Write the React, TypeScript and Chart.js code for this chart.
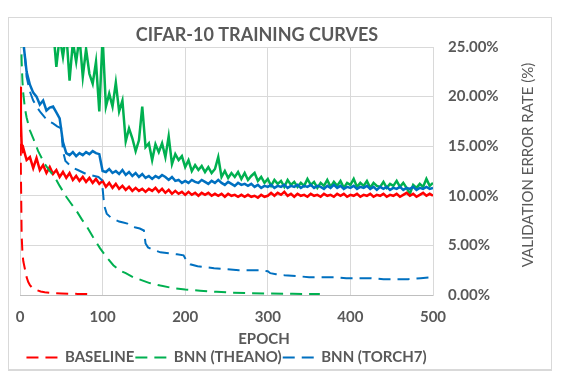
import React, { useEffect, useRef } from 'react';
import { Chart, registerables } from 'chart.js';

Chart.register(...registerables);

const TITLE = 'CIFAR-10 TRAINING CURVES';
const X_TITLE = 'EPOCH';
const Y_TITLE = 'VALIDATION ERROR RATE (%)';
const SERIES_NAMES = ['BASELINE', 'BNN (THEANO)', 'BNN (TORCH7)'];
const X_MIN = 0;
const X_MAX = 500;
const X_STEP = 100;
const Y_MIN = 0;
const Y_MAX = 25;
const Y_STEP = 5;

// epochs at which the validation curves were read
const VAL_EPOCHS = [0, 1, 2, 3, ...Array.from({ length: 125 }, (_, i) => 4 + 4 * i)];

const BASELINE_VAL = [
  21.0, 17.5, 15.2, 14.6,
  14.8, 13.6, 13.9, 12.8, 13.8, 12.6, 13.1, 12.3, 12.9, 12.2,
  12.6, 11.9, 12.4, 11.8, 12.3, 11.6, 12.0, 11.5, 11.9, 11.4,
  11.8, 11.3, 11.7, 11.2, 11.5, 10.9, 11.3, 10.8, 11.2, 10.7,
  11.0, 10.6, 10.9, 10.5, 10.8, 10.5, 10.7, 10.4, 10.7, 10.5,
  10.8, 10.4, 10.7, 10.3, 10.6, 10.2, 10.5, 10.2, 10.4, 10.1,
  10.4, 10.1, 10.3, 10.0, 10.3, 10.1, 10.3, 10.0, 10.2, 10.0,
  10.2, 9.9, 10.2, 10.0, 10.1, 9.9, 10.1, 9.9, 10.1, 9.9,
  10.0, 9.8, 10.1, 9.9, 10.0, 10.3, 10.0, 10.3, 10.1, 10.4,
  10.0, 10.2, 9.9, 10.2, 10.0, 10.1, 9.9, 10.2, 10.0, 10.1,
  9.9, 10.2, 10.0, 10.1, 9.9, 10.2, 10.0, 10.2, 9.9, 10.1,
  10.0, 10.2, 9.9, 10.1, 10.0, 10.2, 9.9, 10.1, 10.0, 10.2,
  9.9, 10.1, 10.0, 10.2, 9.9, 10.1, 10.3, 10.0, 10.2, 9.9,
  10.1, 10.3, 10.0, 10.2, 10.0,
];

const THEANO_VAL = [
  40, 38, 36, 35,
  34, 33, 32, 31, 30, 29.5, 29, 28.5, 28, 27,
  23.0, 26.0, 24.0, 26.5, 21.6, 25.5, 23.5, 26.0, 22.0, 24.8,
  22.3, 21.3, 23.5, 18.5, 26.0, 19.0, 20.3, 19.0, 21.4, 18.5,
  19.6, 15.5, 16.8, 15.8, 14.5, 15.6, 19.0, 14.9, 15.3, 13.6,
  15.2, 14.4, 15.3, 13.9, 16.0, 13.2, 14.2, 13.6, 14.0, 12.9,
  13.6, 12.5, 13.1, 12.6, 13.0, 12.4, 12.9, 12.3, 12.7, 13.9,
  11.9, 12.5, 11.8, 12.3, 11.9, 12.4, 11.7, 12.3, 11.6, 12.0,
  12.3, 11.5, 11.9, 11.3, 11.7, 11.0, 11.6, 11.2, 11.5, 10.9,
  11.6, 11.1, 11.4, 10.9, 11.3, 11.0, 11.7, 11.1, 11.4, 10.8,
  11.3, 11.0, 11.6, 10.9, 11.4, 11.0, 11.5, 10.8, 11.3, 11.1,
  11.7, 10.9, 11.3, 11.0, 11.5, 10.8, 11.3, 11.0, 10.9, 11.4,
  10.8, 11.2, 11.0, 11.5, 10.9, 11.3, 10.8, 10.2, 11.1, 10.8,
  11.2, 10.9, 11.7, 11.0, 11.3,
];

const TORCH_VAL = [
  28, 27, 26.5, 26,
  25.5, 22.5, 21.2, 20.4, 20.0, 19.2, 19.6, 18.6, 18.9, 19.0,
  18.4, 17.8, 15.4, 14.3, 14.1, 14.4, 14.0, 14.3, 14.1, 14.4,
  14.2, 14.5, 14.3, 14.2, 12.5, 12.4, 12.7, 12.3, 12.5, 12.2,
  12.6, 12.1, 12.4, 12.0, 12.3, 11.9, 12.2, 11.8, 12.0, 11.7,
  12.0, 11.8, 12.1, 11.9, 11.6, 11.9, 11.5, 11.6, 11.3, 11.5,
  11.3, 11.6, 11.4, 11.3, 11.6, 11.4, 11.2, 11.5, 11.3, 11.6,
  11.3, 11.1, 11.4, 11.2, 11.0, 11.3, 11.1, 11.2, 11.0, 11.2,
  10.9, 11.1, 10.8, 11.0, 10.9, 11.1, 10.8, 11.0, 10.9, 11.1,
  10.8, 11.0, 10.9, 11.1, 10.8, 11.0, 10.9, 11.1, 10.8, 11.0,
  10.9, 10.7, 11.0, 10.8, 11.1, 10.8, 11.0, 10.7, 10.9, 10.8,
  11.0, 10.7, 10.9, 10.8, 11.0, 10.7, 10.9, 10.6, 10.9, 10.7,
  10.9, 10.6, 10.8, 10.7, 10.9, 10.6, 10.8, 10.7, 10.9, 10.6,
  10.8, 10.7, 10.9, 10.7, 10.8,
];

const BASELINE_TRAIN_EPOCHS = [0, 1, 2, 3, 4, 5, 6, 8, 10, 12, 15, 20, 25, 30, 40, 50, 60, 70, 80, 88];
const BASELINE_TRAIN = [21.0, 13.0, 6.0, 4.2, 3.4, 3.0, 2.6, 1.8, 1.3, 1.0, 0.7, 0.5, 0.35, 0.28, 0.2, 0.16, 0.13, 0.11, 0.1, 0.08];

const THEANO_TRAIN_EPOCHS = [
  0, 1, 2, 3, 4, 6, 8, 12, 16, 22, 30,
  36, 42, 48, 56, 62, 69, 75, 81, 88, 97,
  105, 113, 120, 128, 137, 147, 157, 170, 185, 200,
  218, 238, 258, 280, 300, 330, 363,
];
const THEANO_TRAIN = [
  30, 27, 23.5, 21.5, 20.3, 18.8, 17.9, 16.6, 15.8, 14.5, 13.2,
  12.5, 11.9, 11.0, 9.9, 9.2, 8.4, 7.6, 6.9, 5.9, 4.7,
  3.8, 3.0, 2.5, 2.2, 1.8, 1.5, 1.2, 0.95, 0.7, 0.55,
  0.43, 0.32, 0.23, 0.18, 0.15, 0.12, 0.1,
];

const TORCH_TRAIN_EPOCHS = [
  0, 4, 8, 12, 16, 20, 25, 30, 35, 40,
  45, 50, 52, 55, 60, 65, 70, 75, 80, 85,
  90, 95, 99, 102, 105, 110, 115, 120, 125, 130,
  135, 140, 145, 150, 152, 155, 160, 170, 180, 190,
  198, 202, 206, 215, 225, 235, 250, 265, 280, 290,
  300, 303, 310, 320, 335, 350, 365, 380, 395, 410,
  425, 440, 455, 470, 485, 500,
];
const TORCH_TRAIN = [
  30, 26, 22, 20.5, 19.6, 19.0, 18.4, 17.9, 17.5, 17.3,
  17.0, 16.8, 14.5, 13.5, 13.1, 12.8, 12.6, 12.4, 12.2, 12.1,
  12.0, 11.9, 11.6, 9.0, 8.2, 7.8, 7.6, 7.4, 7.3, 7.2,
  6.9, 6.8, 6.7, 6.5, 5.2, 4.8, 4.6, 4.3, 4.2, 4.1,
  4.0, 3.4, 3.1, 2.9, 2.8, 2.7, 2.6, 2.5, 2.5, 2.5,
  2.4, 2.2, 2.1, 2.0, 1.9, 1.8, 1.8, 1.8, 1.7, 1.7,
  1.7, 1.6, 1.6, 1.6, 1.7, 1.8,
];

const RED = '#FF0000';
const GREEN = '#00B050';
const BLUE = '#0070C0';
const TEXT = '#595959';
const FONT = 'Lato';
const DASH = [12, 7];

const pts = (xs: number[], ys: number[]) => xs.map((x, i) => ({ x, y: ys[i] }));

const textPlugin = {
  id: 'customTexts',
  afterDraw(chart: any) {
    const { ctx, chartArea } = chart;
    ctx.save();
    ctx.fillStyle = TEXT;
    ctx.textAlign = 'center';
    ctx.textBaseline = 'middle';
    ctx.font = `bold 18px ${FONT}`;
    ctx.fillText(TITLE, chartArea.left + 237, 17);
    ctx.font = `bold 15px ${FONT}`;
    ctx.fillText(X_TITLE, chartArea.left + 244, 321);
    ctx.translate(519, chartArea.top + 118);
    ctx.rotate(-Math.PI / 2);
    ctx.font = `15px ${FONT}`;
    ctx.fillText(Y_TITLE, 0, 0);
    ctx.restore();
  },
};

export default function App() {
  const ref = useRef<HTMLCanvasElement | null>(null);
  useEffect(() => {
    if (!ref.current) return;
    const dashed = (label: string, color: string, xs: number[], ys: number[]) => ({
      label,
      data: pts(xs, ys),
      borderColor: color,
      backgroundColor: color,
      borderWidth: 2,
      borderDash: DASH,
      pointRadius: 0,
      tension: 0,
      clip: 0,
    });
    const solid = (label: string, color: string, xs: number[], ys: number[]) => ({
      label,
      data: pts(xs, ys),
      borderColor: color,
      backgroundColor: color,
      borderWidth: 2.5,
      pointRadius: 0,
      tension: 0,
      clip: 0,
    });
    const chart = new Chart(ref.current, {
      type: 'line',
      data: {
        datasets: [
          dashed(SERIES_NAMES[0], RED, BASELINE_TRAIN_EPOCHS, BASELINE_TRAIN),
          dashed(SERIES_NAMES[1], GREEN, THEANO_TRAIN_EPOCHS, THEANO_TRAIN),
          dashed(SERIES_NAMES[2], BLUE, TORCH_TRAIN_EPOCHS, TORCH_TRAIN),
          solid(SERIES_NAMES[0] + ' val', RED, VAL_EPOCHS, BASELINE_VAL),
          solid(SERIES_NAMES[2] + ' val', BLUE, VAL_EPOCHS, TORCH_VAL),
          solid(SERIES_NAMES[1] + ' val', GREEN, VAL_EPOCHS, THEANO_VAL),
        ] as any,
      },
      options: {
        animation: false,
        responsive: false,
        maintainAspectRatio: false,
        layout: { padding: { top: 29, left: 11, right: 0, bottom: 1 } },
        plugins: {
          title: { display: false },
          tooltip: { enabled: false },
          legend: {
            display: true,
            position: 'bottom',
            fullSize: false,
            align: 'center',
            labels: {
              usePointStyle: true,
              pointStyle: 'line',
              pointStyleWidth: 31,
              padding: 1,
              color: TEXT,
              font: { family: FONT, size: 15, weight: 'bold' },
              generateLabels: (c: any) =>
                c.data.datasets.slice(0, 3).map((ds: any, i: number) => ({
                  text: ds.label,
                  datasetIndex: i,
                  fillStyle: ds.borderColor,
                  strokeStyle: ds.borderColor,
                  lineWidth: 2,
                  lineDash: DASH,
                  lineDashOffset: 0,
                  pointStyle: 'line',
                  fontColor: TEXT,
                  hidden: false,
                })),
            },
          },
        },
        scales: {
          x: {
            type: 'linear',
            min: X_MIN,
            max: X_MAX,
            afterFit: (s: any) => { s.height = 54; },
            ticks: {
              stepSize: X_STEP,
              padding: 0,
              color: TEXT,
              font: { family: FONT, size: 15, weight: 'bold' },
              maxRotation: 0,
            },
            grid: { color: '#d9d9d9', lineWidth: 1, drawTicks: true, tickLength: 13, tickColor: 'rgba(0,0,0,0)' },
            border: { color: '#bfbfbf', width: 1 },
          },
          y: {
            position: 'right',
            min: Y_MIN,
            max: Y_MAX,
            afterFit: (s: any) => { s.width = 118; },
            ticks: {
              stepSize: Y_STEP,
              padding: 15,
              color: TEXT,
              font: { family: FONT, size: 15, weight: 'bold' },
              callback: (v: any) => Number(v).toFixed(2) + '%',
            },
            grid: { color: '#d9d9d9', lineWidth: 1, drawTicks: false },
            border: { color: '#d9d9d9', width: 1 },
          },
        },
      } as any,
      plugins: [textPlugin],
    });
    return () => chart.destroy();
  }, []);

  return (
    <div style={{ position: 'relative', width: 547, height: 369 }}>
      <div
        style={{
          position: 'absolute',
          left: 0,
          top: 9,
          width: 544,
          height: 354,
          boxSizing: 'border-box',
          borderTop: '1px solid #d9d9d9',
          borderLeft: '1px solid #d9d9d9',
          borderRight: '1px solid #d9d9d9',
          borderBottom: '2px solid #d9d9d9',
          background: '#fff',
        }}
      />
      <canvas
        ref={ref}
        width={542}
        height={358}
        style={{ position: 'absolute', left: 1, top: 10, width: 542, height: 358 }}
      />
    </div>
  );
}
